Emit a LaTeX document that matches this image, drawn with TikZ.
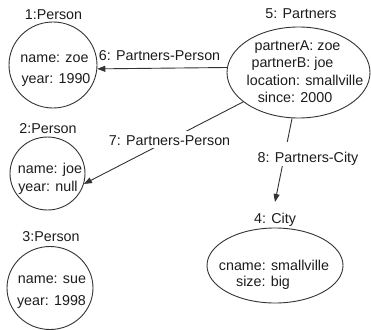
\documentclass[tikz,border=0pt]{standalone}
\usepackage{fontspec}
\setmainfont{Liberation Sans}
\usetikzlibrary{shapes.geometric,arrows.meta}
\definecolor{ink}{HTML}{1C1C1C}
\definecolor{stroke}{HTML}{333333}
\begin{document}
\begin{tikzpicture}[x=1pt,y=-1pt,
  every node/.style={font=\fontsize{14.3}{17}\selectfont, text=ink, inner sep=0pt},
  txt/.style={anchor=base},
  entity/.style 2 args={ellipse, draw=stroke, line width=0.9pt,
    minimum width=#1, minimum height=#2},
  rel/.style={draw=stroke, line width=0.9pt, -{Triangle[length=8pt,width=6pt]}},
  edgelbl/.style={anchor=base, fill=white, inner xsep=2pt, inner ysep=1pt}
]
\useasboundingbox (0,0) rectangle (371,329);

% entity shapes
\node[entity={88}{86}] (p1) at (53,65) {};
\node[entity={75}{73}] (p2) at (47.5,173.5) {};
\node[entity={86}{83}] (p3) at (50,288) {};
\node[entity={143}{91}] (partners) at (298.5,72.5) {};
\node[entity={136}{75}] (city) at (275,265.5) {};

% entity titles
\node[txt] (p1t) at (53.5,19.5) {1:Person};
\node[txt] (p2t) at (48,133) {2:Person};
\node[txt] (p3t) at (51,241.7) {3:Person};
\node[txt] (partt) at (301,18.5) {5: Partners};
\node[txt] (cityt) at (275,223) {4: City};

% attributes
\node[txt] (p1a) at (54.5,62) {name: zoe};
\node[txt] (p1b) at (56,83) {year: 1990};
\node[txt] (p2a) at (50,173) {name: joe};
\node[txt] (p2b) at (48,191.7) {year: null};
\node[txt] (p3a) at (52,283) {name: sue};
\node[txt] (p3b) at (51.5,305) {year: 1998};
\node[txt] (pa) at (297.5,50.7) {partnerA: zoe};
\node[txt] (pb) at (292.5,67.5) {partnerB: joe};
\node[txt] (pc) at (305,85) {location: smallville};
\node[txt] (pd) at (295,102.7) {since: 2000};
\node[txt] (ca) at (274,270) {cname: smallville};
\node[txt] (cb) at (263,286.7) {size: big};

% relationships
\coordinate (cityin) at (275,202);
\draw[rel] (partners.176.8) -- (p1.-5.3);
\draw[rel] (partners.208) -- (p2.-16.6);
\draw[rel] (partners.262.6) -- (cityin);

% relationship labels
\node[txt] (l6) at (159.5,60.7) {6: Partners-Person};
\node[edgelbl, text height=13pt, text depth=2pt] (l7) at (169.5,145) {7: Partners-Person};
\node[edgelbl, text height=19.5pt, text depth=2.5pt] (l8) at (308,162.7) {8: Partners-City};
\end{tikzpicture}
\end{document}
